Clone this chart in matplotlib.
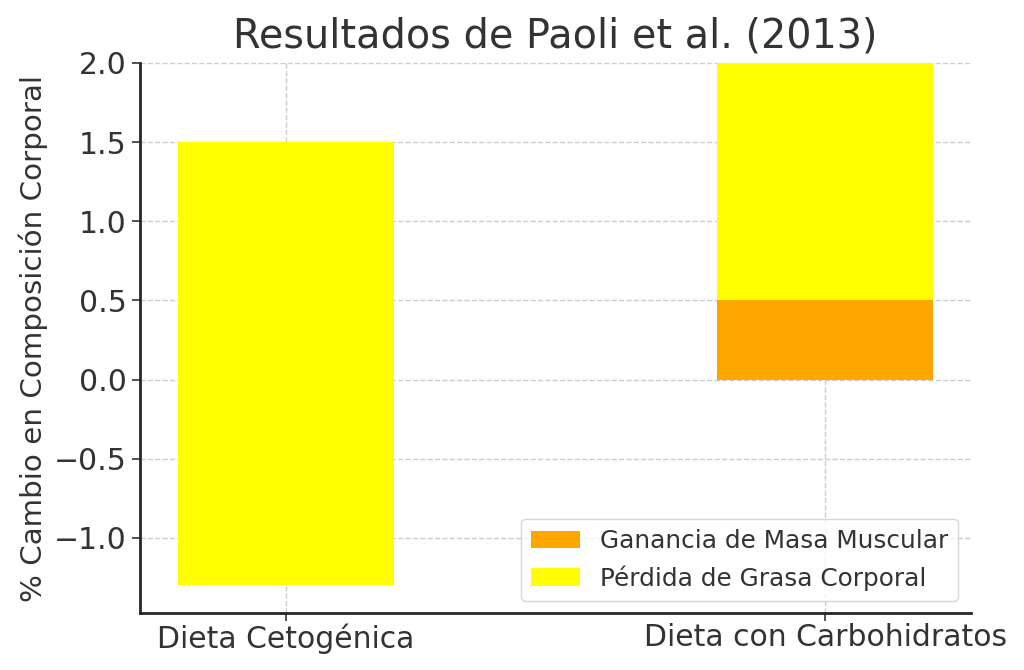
import matplotlib
matplotlib.use("Agg")
import matplotlib.pyplot as plt
import numpy as np

categories = ["Dieta Cetogénica", "Dieta con Carbohidratos"]
muscle_gain = [-1.3, 0.5]
fat_loss = [2.8, 1.5]
series_labels = ["Ganancia de Masa Muscular", "Pérdida de Grasa Corporal"]

plt.rcParams['font.family'] = ['DejaVu Sans']
txt = '#333333'
plt.rcParams['text.color'] = txt
plt.rcParams['axes.labelcolor'] = txt
plt.rcParams['xtick.color'] = txt
plt.rcParams['ytick.color'] = txt

fig = plt.figure(figsize=(10.24, 6.7), dpi=100)
ax = fig.add_axes([0.1367, 0.085, 0.8113, 0.821])

x = np.arange(len(categories))
ax.bar(x, muscle_gain, width=0.4, color='orange', label=series_labels[0], zorder=2)
ax.bar(x, fat_loss, width=0.4, bottom=muscle_gain, color='yellow', label=series_labels[1], zorder=2)

ax.set_xticks(x)
ax.set_xticklabels(categories)
ax.set_ylim(-1.474, 2.0)
ax.set_yticks([-1.0, -0.5, 0.0, 0.5, 1.0, 1.5, 2.0])
ax.set_yticklabels(["−1.0", "−0.5", "0.0", "0.5", "1.0", "1.5", "2.0"])
ax.tick_params(axis='both', labelsize=21.5, length=6, width=1.2, direction='out')
ax.tick_params(axis='x', pad=1.5)
ax.set_ylabel("% Cambio en Composición Corporal", fontsize=21.2)
ax.set_title("Resultados de Paoli et al. (2013)", fontsize=28.6, pad=11)

ax.grid(True, linestyle='--', color='#cccccc', linewidth=1, zorder=0)
ax.set_axisbelow(True)
for s in ['top', 'right']:
    ax.spines[s].set_visible(False)
for s in ['left', 'bottom']:
    ax.spines[s].set_color('#262626')
    ax.spines[s].set_linewidth(2)

leg = ax.legend(loc='lower right', fontsize=17.8, frameon=True, fancybox=True)
leg.get_frame().set_edgecolor('#cccccc')
for t in leg.get_texts():
    t.set_color(txt)

fig.savefig("out.png", dpi=100)
